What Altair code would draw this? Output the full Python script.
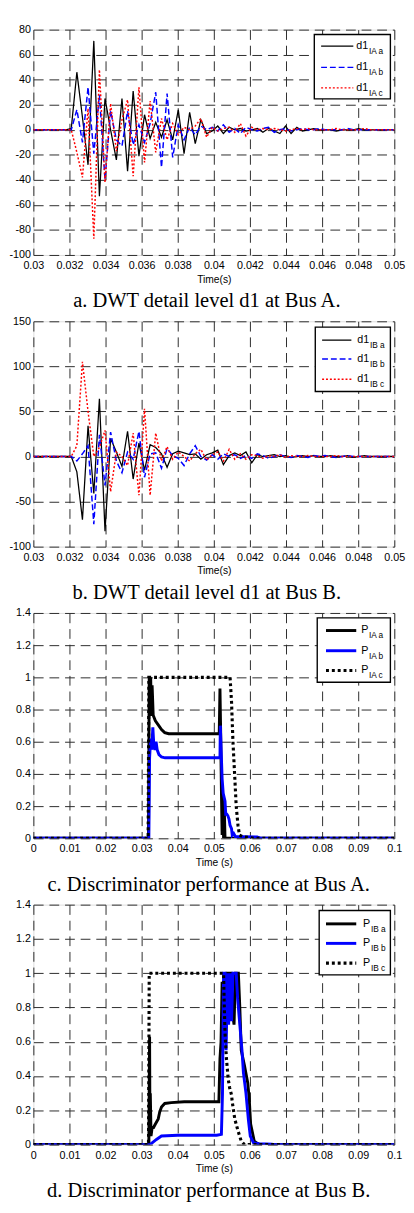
import altair as alt
import pandas as pd

# ---------------- panels a / b : DWT detail level d1 ----------------
t_d1 = [0.03, 0.03022, 0.03053, 0.03085, 0.03116, 0.03147, 0.03178, 0.03210, 0.03241,
        0.03272, 0.03303, 0.03335, 0.03366, 0.03397, 0.03428, 0.03460, 0.03491, 0.03522,
        0.03553, 0.03585, 0.03616, 0.03647, 0.03678, 0.03710, 0.03741, 0.03772, 0.03803,
        0.03835, 0.03866, 0.03897, 0.03928, 0.03960, 0.03991, 0.04022, 0.04053, 0.04085,
        0.04116, 0.04147, 0.04178, 0.04210, 0.04241, 0.04272, 0.04303, 0.04335, 0.04366,
        0.04397, 0.04428, 0.04460, 0.04491, 0.04522, 0.04553, 0.04585, 0.04616, 0.04647,
        0.04678, 0.04710, 0.04741, 0.04772, 0.04803, 0.04835, 0.04866, 0.04897, 0.04928,
        0.04960, 0.04991, 0.05]

d1_IA_a = [0, 0, 0, 0, 0, 0, 0, 1, 46, 10, -28, 71, -53, 25, 0, -24, 25, -33, 31, -21, 12,
           -7, 6, -6, 8, -8, 16, -19, 14, -11, 8, -3, -1, 3, -3, 2, 0, 1, -1, 0, 1, -2, 1,
           -1, -3, 3, -3, 2, -1, 0, 1, 0, 0, 0, -1, 0, 0, 0, 1, 0, 0, 0, 0, 0, 0, 0]
d1_IA_b = [0, 0, 0, 0, 0, 0, 0, 0, 16, -10, 34, -19, 28, -40, 15, -8, -13, 15, -12, 4, -10,
           5, 30, -30, 29, -22, 4, -8, 2, -4, 3, 0, 2, -1, 4, -2, 1, -3, 2, 0, -1, 1, 2,
           -2, 0, 1, -1, 0, 1, 0, 0, 1, 0, 0, 0, 0, 1, 0, 0, 0, 0, 0, 0, 0, 0, 0]
d1_IA_c = [0, 0, 0, 0, 0, 0, 0, 0, -18, -38, 17, -87, 48, -42, 21, -17, 8, 24, -37, 34, -26,
           23, -18, 9, -8, 5, -4, 2, 0, 3, 9, -6, 2, -1, 1, 2, -2, 5, -5, 2, 0, 1, 0, 1,
           0, -1, 0, 1, 0, 1, 0, 0, 0, 0, 1, 0, 0, 0, 0, 1, 0, 0, 0, 0, 0, 0]

d1_IB_a = [0, 0, 0, 0, 0, 0, 0, 0, -17, -70, 34, -41, 64, -83, 20, 5, -11, 28, -25, 15, -15,
           13, 10, 3, -12, 3, 6, 4, 2, 3, -3, 2, 4, 7, -9, 1, 4, 1, 5, -7, 2, 0, 1, 2, 0,
           1, -1, 0, 1, 0, 1, 0, 0, 1, 0, 0, 1, -1, 0, 1, 0, 0, 0, 0, 0, 0]
d1_IB_b = [0, 0, 0, 0, 0, 0, 0, 0, -5, 3, 12, -75, 24, -32, 27, -5, -18, 5, -3, 28, -23, 3,
           4, -13, 9, 1, -2, -10, 3, 12, 0, -4, 2, -3, 3, 0, 2, -2, 1, -2, 3, 1, -2, 0, 2,
           0, -1, 1, 0, -1, 1, 0, 1, 0, -1, 0, 1, 0, 0, 0, 0, 0, 0, 0, 0, 0]
d1_IB_c = [0, 0, 0, 0, 0, 0, 0, 0, 12, 105, 50, 0, 10, 29, -39, 5, 0, -10, 26, -43, 53, -43,
           26, -5, 11, -3, 5, 0, -5, 3, 8, -4, 2, 5, -5, 8, -3, 3, -3, 2, 1, -2, 1, 0, 2,
           -1, 1, 0, 0, 1, 0, 0, 0, 0, 1, 0, 0, 0, 0, 0, 0, 0, 0, 0, 0, 0]

# ---------------- panel c : discriminator at Bus A ----------------
PA_a_t = [0, 0.0319, 0.0321, 0.0323, 0.0325, 0.0327, 0.0329, 0.0332, 0.0338, 0.0346,
          0.0355, 0.0364, 0.0375, 0.0515, 0.0517, 0.0519, 0.0521, 0.0523, 0.0525, 0.0527,
          0.0529, 0.0531, 0.0533, 0.1]
PA_a_v = [0, 0, 1.0, 0.8, 1.0, 0.76, 0.95, 0.765, 0.73, 0.705, 0.676, 0.657, 0.65, 0.65,
          0.93, 0.65, 0.3, 0.02, 0.27, 0.0, 0.18, 0.0, 0.0, 0]
PA_b_t = [0, 0.0320, 0.0322, 0.0325, 0.0328, 0.0331, 0.0334, 0.0337, 0.0340, 0.0343,
          0.0348, 0.0355, 0.0365, 0.0517, 0.0518, 0.0521, 0.0523, 0.0526, 0.0529, 0.0531,
          0.0533, 0.0536, 0.0539, 0.0542, 0.0545, 0.0549, 0.0551, 0.0555, 0.0560, 0.0580,
          0.0620, 0.0630, 0.1]
PA_b_v = [0, 0, 0.5, 0.62, 0.55, 0.69, 0.57, 0.55, 0.6, 0.55, 0.52, 0.505, 0.5, 0.5, 0.7,
          0.5, 0.37, 0.28, 0.25, 0.23, 0.15, 0.15, 0.14, 0.12, 0.08, 0.06, 0.02, 0.03, 0.01,
          0.01, 0.008, 0, 0]
PA_c_t = [0, 0.0318, 0.0320, 0.0545, 0.0549, 0.0553, 0.0558, 0.0562, 0.0567, 0.0571,
          0.0580, 0.0600, 0.0610, 0.1]
PA_c_v = [0, 0, 1.0, 1.0, 0.85, 0.6, 0.38, 0.2, 0.08, 0.02, 0.01, 0.005, 0, 0]

# ---------------- panel d : discriminator at Bus B ----------------
PB_a_t = [0, 0.0320, 0.0322, 0.0323, 0.0324, 0.0326, 0.0329, 0.0333, 0.0337, 0.0346,
          0.0350, 0.0355, 0.0364, 0.0382, 0.0418, 0.0514, 0.0517, 0.0520, 0.0523, 0.0527,
          0.0531, 0.0536, 0.0541, 0.0548, 0.0553, 0.0556, 0.0560, 0.0568, 0.0572, 0.0576,
          0.0585, 0.0594, 0.0598, 0.0602, 0.0612, 0.0626, 0.1]
PB_a_v = [0, 0, 0.63, 0.1, 0.3, 0.05, 0.1, 0.1, 0.116, 0.15, 0.19, 0.22, 0.24, 0.245, 0.25,
          0.25, 0.5, 0.6, 0.95, 0.75, 0.95, 1.0, 1.0, 1.0, 0.75, 0.7, 1.0, 1.0, 0.8, 0.55,
          0.46, 0.36, 0.27, 0.12, 0.02, 0, 0]
PB_b_t = [0, 0.0323, 0.0341, 0.0355, 0.0400, 0.0508, 0.0521, 0.0524, 0.0527, 0.0531,
          0.0534, 0.0538, 0.0541, 0.0545, 0.0549, 0.0553, 0.0562, 0.0566, 0.0572, 0.0578,
          0.0582, 0.0589, 0.0596, 0.0601, 0.0610, 0.0626, 0.0660, 0.0670, 0.1]
PB_b_v = [0, 0, 0.03, 0.05, 0.055, 0.055, 0.06, 0.3, 1.0, 1.0, 0.55, 1.0, 0.7, 1.0, 0.72,
          1.0, 1.0, 0.85, 0.7, 0.55, 0.42, 0.3, 0.14, 0.05, 0.01, 0.005, 0.003, 0, 0]
PB_c_t = [0, 0.0319, 0.0321, 0.0527, 0.0529, 0.0531, 0.0535, 0.0540, 0.0544, 0.0549,
          0.0551, 0.0558, 0.0567, 0.0576, 0.0585, 0.1]
PB_c_v = [0, 0, 1.0, 1.0, 0.8, 0.65, 0.5, 0.38, 0.33, 0.29, 0.25, 0.15, 0.08, 0.02, 0, 0]

# ---------------- axes ticks / labels ----------------
x_ticks_ab = [0.03, 0.032, 0.034, 0.036, 0.038, 0.04, 0.042, 0.044, 0.046, 0.048, 0.05]
x_ticks_cd = [0, 0.01, 0.02, 0.03, 0.04, 0.05, 0.06, 0.07, 0.08, 0.09, 0.1]
y_ticks_a = [-100, -80, -60, -40, -20, 0, 20, 40, 60, 80]
y_ticks_b = [-100, -50, 0, 50, 100, 150]
y_ticks_cd = [0, 0.2, 0.4, 0.6, 0.8, 1.0, 1.2, 1.4]

captions = ["a. DWT detail level d1 at Bus A.", "b. DWT detail level d1 at Bus B.",
            "c. Discriminator performance at Bus A.", "d. Discriminator performance at Bus B."]

SANS = "Liberation Sans"
SERIF = "Liberation Serif"
LABEL_EXPR = "replace(format(datum.value, '~g'), '\u2212', '-')"
GRID_DASH = [10, 6]
W = 370


def axis(values, title=None, pad=3):
    kw = dict(values=values, grid=True, gridColor="#2a2a2a", gridDash=GRID_DASH,
              gridWidth=1, ticks=False, tickSize=0, domain=False, labelExpr=LABEL_EXPR,
              labelFlush=False, labelOverlap=False,
              labelFont=SANS, labelFontSize=11, labelColor="black", labelPadding=pad)
    if title:
        kw.update(title=title, titleFont=SANS, titleFontSize=10.5, titleFontWeight="normal",
                  titleColor="black", titlePadding=4)
    else:
        kw.update(title=None)
    return alt.Axis(**kw)


def panel(series, xdom, xticks, xtitle, ydom, yticks, caption, legend, height):
    xs = alt.Scale(domain=xdom, nice=False, zero=False)
    ys = alt.Scale(domain=ydom, nice=False, zero=False)
    layers = []
    for t, v, color, width, dash, _main, _sub in series:
        df = pd.DataFrame({"t": t, "v": v})
        mk = dict(color=color, strokeWidth=width, clip=True)
        if dash:
            mk["strokeDash"] = dash
        layers.append(
            alt.Chart(df).mark_line(**mk).encode(
                x=alt.X("t:Q", scale=xs, axis=axis(xticks, xtitle, pad=5)),
                y=alt.Y("v:Q", scale=ys, axis=axis(yticks, pad=3)),
            )
        )
    # legend box drawn inside the plot, MATLAB style
    one = pd.DataFrame({"k": [0]})
    bx0, bx1, by0, by1, lx0, lx1, rows, tx, sx = legend
    layers.append(alt.Chart(one).mark_rect(fill="white", stroke="black", strokeWidth=1.4).encode(
        x=alt.value(bx0), x2=alt.value(bx1), y=alt.value(by0), y2=alt.value(by1)))
    for (t, v, color, width, dash, main, sub), ry in zip(series, rows):
        mk = dict(color=color, strokeWidth=width)
        if dash:
            mk["strokeDash"] = dash
        layers.append(alt.Chart(one).mark_rule(**mk).encode(
            x=alt.value(lx0), x2=alt.value(lx1), y=alt.value(ry)))
        layers.append(alt.Chart(one).mark_text(
            text=main, align="left", baseline="middle", font=SANS, fontSize=11, color="black"
        ).encode(x=alt.value(tx), y=alt.value(ry)))
        layers.append(alt.Chart(one).mark_text(
            text=sub, align="left", baseline="middle", font=SANS, fontSize=8.5, color="black"
        ).encode(x=alt.value(sx), y=alt.value(ry + 5)))
    return alt.layer(*layers).properties(
        width=W, height=height,
        title=alt.TitleParams(text=caption, orient="bottom", font=SERIF, fontSize=21,
                              fontWeight="normal", color="black", anchor="middle",
                              frame="bounds", offset=6),
    )


RED_DOT = [2, 2]
BLUE_DASH = [6, 3]
DOT_THICK = [3, 3]

pa = panel(
    [(t_d1, d1_IA_a, "black", 1.3, None, "d1", "IA a"),
     (t_d1, d1_IA_b, "#0000ff", 1.5, BLUE_DASH, "d1", "IA b"),
     (t_d1, d1_IA_c, "#ff0000", 1.5, RED_DOT, "d1", "IA c")],
    [0.03, 0.05], x_ticks_ab, "Time(s)", [-100, 80], y_ticks_a, captions[0],
    (288, 366, 5, 71, 295, 328, [17, 38.7, 59.7], 331, 344), 231)

pb = panel(
    [(t_d1, d1_IB_a, "black", 1.3, None, "d1", "IB a"),
     (t_d1, d1_IB_b, "#0000ff", 1.5, BLUE_DASH, "d1", "IB b"),
     (t_d1, d1_IB_c, "#ff0000", 1.5, RED_DOT, "d1", "IB c")],
    [0.03, 0.05], x_ticks_ab, "Time(s)", [-100, 150], y_ticks_b, captions[1],
    (289, 366, 6, 72, 296, 326, [19.3, 38.7, 59.3], 332, 345), 231)

pc = panel(
    [(PA_a_t, PA_a_v, "black", 3, None, "P", "IA a"),
     (PA_b_t, PA_b_v, "#0000ff", 3, None, "P", "IA b"),
     (PA_c_t, PA_c_v, "black", 3.2, DOT_THICK, "P", "IA c")],
    [0, 0.1], x_ticks_cd, "Time (s)", [0, 1.4], y_ticks_cd, captions[2],
    (291, 366, 5, 71, 300, 331, [18, 38.7, 59], 336, 344), 231)

pd_ = panel(
    [(PB_a_t, PB_a_v, "black", 3, None, "P", "IB a"),
     (PB_b_t, PB_b_v, "#0000ff", 3, None, "P", "IB b"),
     (PB_c_t, PB_c_v, "black", 3.2, DOT_THICK, "P", "IB c")],
    [0, 0.1], x_ticks_cd, "Time (s)", [0, 1.4], y_ticks_cd, captions[3],
    (293, 366, 6, 72, 300, 331, [19.7, 39.7, 60], 338, 346), 246)

chart = alt.vconcat(pa, pb, pc, pd_, spacing=3).properties(
    padding={"left": 0, "top": 0, "right": 0, "bottom": 0}
).configure_view(stroke="black", strokeWidth=1.2).configure(background="white")

chart.save("out.html", embed_options={"renderer": "svg", "actions": False})
